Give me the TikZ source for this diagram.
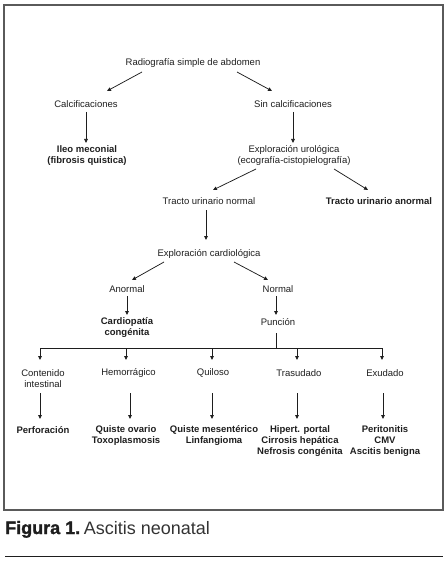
\documentclass[tikz,border=0pt]{standalone}
\usepackage{fontspec}
\setmainfont{Liberation Sans}
\newfontfamily\heavyfont[FakeBold=1.6]{Liberation Sans Bold}
\usetikzlibrary{arrows.meta}
\definecolor{ink}{HTML}{1E1E1E}
\definecolor{frame}{HTML}{5A5A5A}
\tikzset{
  lbl/.style={inner sep=0pt, align=center, text=ink, font=\fontsize{9.5}{11}\selectfont},
  res/.style={lbl, font=\fontsize{9.5}{11}\selectfont\bfseries},
  arr/.style={draw=ink, line width=0.75pt, -{Triangle[length=4pt,width=3.6pt]}},
  ln/.style={draw=ink, line width=0.75pt},
}
\begin{document}
\begin{tikzpicture}[x=1pt,y=-1pt]
\useasboundingbox (0,0) rectangle (447,561);
\draw[frame, line width=1.3pt] (4,5) rectangle (443,510);
% nodes
\node[lbl] (root) at (193,63) {Radiografía simple de abdomen};
\node[lbl] (calc) at (86,104) {Calcificaciones};
\node[lbl] (sincalc) at (293,104) {Sin calcificaciones};
\node[res] (ileo) at (87,155.5) {Ileo meconial\\(fibrosis quistica)};
\node[lbl] (uro) at (294,155.5) {Exploración urológica\\(ecografía-cistopielografía)};
\node[lbl] (tnormal) at (209,201) {Tracto urinario normal};
\node[res] (tanormal) at (379,201) {Tracto urinario anormal};
\node[lbl] (cardio) at (209,254) {Exploración cardiológica};
\node[lbl] (anormal) at (127,289) {Anormal};
\node[lbl] (normal) at (278,289) {Normal};
\node[res] (cardiop) at (127,328) {Cardiopatía\\congénita};
\node[lbl] (puncion) at (278,322) {Punción};
\node[lbl] (contenido) at (43,378.5) {Contenido\\intestinal};
\node[lbl] (hemo) at (128.5,373) {Hemorrágico};
\node[lbl] (quiloso) at (213,373) {Quiloso};
\node[lbl] (trasudado) at (299,373) {Trasudado};
\node[lbl] (exudado) at (385,373) {Exudado};
\node[res] (perf) at (43,430) {Perforación};
\node[res] (qov) at (126,436) {Quiste ovario\\Toxoplasmosis};
\node[res] (qmes) at (214,436) {Quiste mesentérico\\Linfangioma};
\node[res] (hip) at (300,441.5) {Hipert. portal\\Cirrosis hepática\\Nefrosis congénita};
\node[res] (perit) at (385,441.5) {Peritonitis\\CMV\\Ascitis benigna};
% connectors
\draw[arr] ([shift={(-51,9)}]root.center) -- ([shift={(21,-13)}]calc.center);
\draw[arr] ([shift={(44,9)}]root.center) -- ([shift={(-21,-13)}]sincalc.center);
\draw[arr] ([shift={(0,8)}]calc.center) -- ([shift={(-1,-12.5)}]ileo.center);
\draw[arr] ([shift={(0,8)}]sincalc.center) -- ([shift={(-1,-12.5)}]uro.center);
\draw[arr] ([shift={(-38,13.5)}]uro.center) -- ([shift={(4,-11)}]tnormal.center);
\draw[arr] ([shift={(40,13.5)}]uro.center) -- ([shift={(-11,-11)}]tanormal.center);
\draw[arr] ([shift={(-3,9)}]tnormal.center) -- ([shift={(-3,-14)}]cardio.center);
\draw[arr] ([shift={(-45,8)}]cardio.center) -- ([shift={(5,-9)}]anormal.center);
\draw[arr] ([shift={(25,8)}]cardio.center) -- ([shift={(-10,-9)}]normal.center);
\draw[arr] ([shift={(0,7)}]anormal.center) -- ([shift={(0,-13)}]cardiop.center);
\draw[arr] ([shift={(-2,7)}]normal.center) -- ([shift={(-2,-7)}]puncion.center);
% bus
\coordinate (bus) at (276,348);
\coordinate (b1) at (40,348);
\coordinate (b2) at (126,348);
\coordinate (b3) at (212,348);
\coordinate (b4) at (297,348);
\coordinate (b5) at (382,348);
\draw[ln] ([shift={(-2,11)}]puncion.center) -- (bus);
\draw[ln] (b1) -- (b5);
\draw[arr] (b1) -- ([shift={(-3,-18.5)}]contenido.center);
\draw[arr] (b2) -- ([shift={(-2.5,-13)}]hemo.center);
\draw[arr] (b3) -- ([shift={(-1,-13)}]quiloso.center);
\draw[arr] (b4) -- ([shift={(-2,-13)}]trasudado.center);
\draw[arr] (b5) -- ([shift={(-3,-13)}]exudado.center);
% results
\draw[arr] ([shift={(-3,14.5)}]contenido.center) -- ([shift={(-3,-11)}]perf.center);
\draw[arr] ([shift={(1.5,20)}]hemo.center) -- ([shift={(4,-17)}]qov.center);
\draw[arr] ([shift={(-1,20)}]quiloso.center) -- ([shift={(-2,-17)}]qmes.center);
\draw[arr] ([shift={(-2,20)}]trasudado.center) -- ([shift={(-3,-22.5)}]hip.center);
\draw[arr] ([shift={(-2,20)}]exudado.center) -- ([shift={(-2,-22.5)}]perit.center);
% caption
\node[anchor=base west, inner sep=0pt, text=ink] (cap) at (5,534)
  {{\fontsize{18}{20}\heavyfont Figura 1.} {\fontsize{18}{20}\selectfont\color{black!80}Ascitis neonatal}};
\draw[ink, line width=1.1pt] (5,556.5) -- (443,556.5);
\end{tikzpicture}
\end{document}
